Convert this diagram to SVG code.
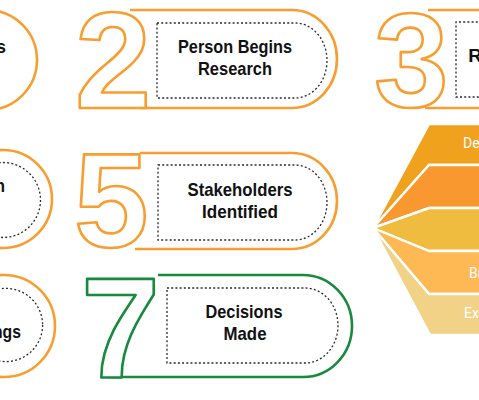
<svg xmlns="http://www.w3.org/2000/svg" width="479" height="400" viewBox="0 0 479 400">
<style>
.o{fill:none;stroke:#F89D30;stroke-width:2.6}
.g{fill:none;stroke:#178A3E;stroke-width:2.6}
.d{fill:none;stroke:#2a2a2a;stroke-width:1.3;stroke-dasharray:2 2.2}
.num{font-family:"Liberation Sans",Arial,sans-serif;font-weight:bold;fill:#fff;stroke-width:2.6;stroke-linejoin:round}
.lbl{font-family:"Liberation Sans",Arial,sans-serif;font-weight:bold;font-size:19px;fill:#111;text-anchor:middle}
.lbe{font-family:"Liberation Sans",Arial,sans-serif;font-weight:bold;font-size:19px;fill:#111;text-anchor:end}
.ft{font-family:Roboto,"Liberation Sans",sans-serif;font-size:14px;fill:#fff}
</style>
<rect width="479" height="400" fill="#fff"/>

<g id="node1">
<circle class="o" cx="-13" cy="60" r="50"/>
<text class="lbe" x="6" y="53" textLength="10" lengthAdjust="spacingAndGlyphs">s</text>
</g>

<g id="node2">
<path class="o" d="M130,10 H292 A45,49 0 0 1 292,108 H140"/>
<text class="num" x="75" y="108" font-size="137" stroke="#F89D30">2</text>
<path class="d" d="M157,23 H295 A32,37.5 0 0 1 295,98 H157 Z"/>
<text class="lbl" x="235" y="53" textLength="114" lengthAdjust="spacingAndGlyphs">Person Begins</text>
<text class="lbl" x="235" y="75" textLength="74" lengthAdjust="spacingAndGlyphs">Research</text>
</g>

<g id="node3">
<path class="o" d="M428,10 H482 M425,108 H482"/>
<text class="num" x="374" y="107" font-size="134" stroke="#F89D30">3</text>
<path class="d" d="M482,22 H456 V97 H482"/>
<text class="lbe" x="482" y="62">R</text>
</g>

<g id="node4">
<circle class="o" cx="3" cy="199" r="49"/>
<circle class="d" cx="3" cy="200" r="37.5"/>
<text class="lbe" x="5" y="192" textLength="10" lengthAdjust="spacingAndGlyphs">n</text>
</g>

<g id="node5">
<path class="o" d="M140,153 H292 A45,48 0 0 1 292,249 H135"/>
<text class="num" x="74" y="247" font-size="134" stroke="#F89D30">5</text>
<path class="d" d="M158,165 H295 A32,37.5 0 0 1 295,240 H158 Z"/>
<text class="lbl" x="240" y="196" textLength="105" lengthAdjust="spacingAndGlyphs">Stakeholders</text>
<text class="lbl" x="240" y="218" textLength="76" lengthAdjust="spacingAndGlyphs">Identified</text>
</g>

<g id="node6">
<circle class="o" cx="4" cy="326" r="51"/>
<circle class="d" cx="6" cy="325" r="36.6"/>
<text class="lbe" x="21" y="338" textLength="28" lengthAdjust="spacingAndGlyphs">ngs</text>
</g>

<g id="node7">
<path class="g" d="M158,275 H303 A49,51 0 0 1 303,377 H110"/>
<text class="num" x="81" y="377" font-size="142" stroke="#178A3E">7</text>
<path class="d" d="M167,288 H305 A33,37.5 0 0 1 305,363 H167 Z"/>
<text class="lbl" x="244" y="318" textLength="77" lengthAdjust="spacingAndGlyphs">Decisions</text>
<text class="lbl" x="245" y="340" textLength="43" lengthAdjust="spacingAndGlyphs">Made</text>
</g>

<g id="funnel" stroke="#fff" stroke-width="2.4" stroke-linejoin="miter">
<polygon points="482,124 429,124 373,228 429,165 482,165" fill="#F0A11D"/>
<polygon points="482,165 429,165 373,228 429,208 482,208" fill="#F9982F"/>
<polygon points="482,208 429,208 373,228 429,251 482,251" fill="#F0BC40"/>
<polygon points="482,251 429,251 373,228 429,294 482,294" fill="#FEB955"/>
<polygon points="482,294 429,294 373,228 430,335 482,335" fill="#F1D287"/>
</g>
<g id="funnel-text" class="ft">
<text class="ft" x="463" y="148">De</text>
<text class="ft" x="469" y="278">Br</text>
<text class="ft" x="464" y="318">Exe</text>
</g>
</svg>
